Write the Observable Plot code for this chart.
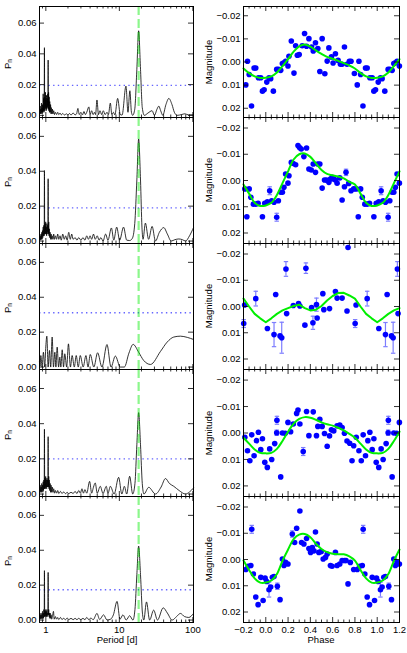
<!DOCTYPE html>
<html><head><meta charset="utf-8">
<script src="https://cdn.jsdelivr.net/npm/d3@7"></script>
<script src="https://cdn.jsdelivr.net/npm/@observablehq/plot@0.6"></script>
<style>
body{margin:0;background:#fff;}
#wrap{position:relative;width:407px;height:653px;overflow:hidden;font-family:"Liberation Sans",Arial,sans-serif;color:#000;}
#wrap svg{position:absolute;overflow:visible;}
.lab{position:absolute;width:100px;height:12px;line-height:12px;text-align:center;font-size:9.5px;white-space:nowrap;}
.rot{transform:rotate(-90deg);}
.lab sub{font-size:6.5px;vertical-align:-1px;}
</style></head><body><div id="wrap"></div>
<script>
// ---------- DATA ----------
const periodTicks = [1, 10, 100];
const periodMinor = [0.9,2,3,4,5,6,7,8,9,20,30,40,50,60,70,80,90];
const powerTicks = [0, 0.02, 0.04, 0.06];
const phaseTicks = [-0.2, 0, 0.2, 0.4, 0.6, 0.8, 1.0, 1.2];
const magTicks = [-0.02, -0.01, 0, 0.01, 0.02];
const peakPeriod = 18.3;
const thresholds = [0.0195, 0.0190, 0.0311, 0.0200, 0.0174];

// periodograms: [period (d), normalized power]
const pg1 = [[0.83,0.002],[0.84,0.006],[0.848,0.001],[0.856,0.004],[0.864,0.001],[0.872,0.008],[0.88,0.002],[0.888,0.005],[0.896,0.001],[0.904,0.007],[0.912,0.002],[0.92,0.014],[0.928,0.003],[0.936,0.011],[0.944,0.002],[0.95,0.006],[0.957,0.044],[0.964,0.003],[0.972,0.012],[0.98,0.004],[0.988,0.015],[0.996,0.005],[1.004,0.010],[1.012,0.003],[1.02,0.013],[1.03,0.004],[1.04,0.011],[1.05,0.005],[1.06,0.014],[1.068,0.006],[1.075,0.036],[1.083,0.004],[1.09,0.015],[1.1,0.003],[1.11,0.012],[1.12,0.002],[1.13,0.009],[1.145,0.002],[1.16,0.007],[1.175,0.001],[1.19,0.005],[1.21,0.001],[1.23,0.004],[1.25,0.001],[1.28,0.003],[1.31,0.0005],[1.35,0.002],[1.4,0.0005],[1.45,0.002],[1.5,0.0005],[1.56,0.0015],[1.62,0.0003],[1.7,0.0012],[1.8,0.0002],[1.9,0.001],[2.0,0.0002],[2.1,0.0012],[2.2,0.0002],[2.35,0.0015],[2.5,0.0003],[2.62,0.001],[2.73,0.0045],[2.85,0.0005],[3.0,0.002],[3.15,0.0003],[3.3,0.0025],[3.45,0.0005],[3.6,0.002],[3.85,0.0055],[4.0,0.0005],[4.2,0.003],[4.4,0.0005],[4.6,0.002],[4.75,0.0005],[4.96,0.010],[5.2,0.0005],[5.45,0.003],[5.75,0.0005],[6.05,0.003],[6.4,0.0005],[6.8,0.002],[7.1,0.0005],[7.54,0.008],[7.9,0.0005],[8.3,0.002],[8.7,0.0003],[9.48,0.011],[10.3,0.0005],[10.9,0.0002],[12.3,0.019],[13.1,0.002],[13.9,0.016],[14.6,0.002],[15.2,0.0],[16.2,0.004],[17.3,0.03],[18.3,0.055],[19.4,0.03],[20.5,0.005],[21.9,0.0],[24.5,0.0015],[27.9,0.003],[30.0,0.0],[32.5,0.004],[34.4,0.006],[36.5,0.003],[39.0,0.0],[43,0.007],[47.1,0.011],[52,0.007],[56,0.002],[61.2,0.0],[70,0.0005],[77.8,0.001],[87,0.0003],[102,0.0003]];

const pg2 = [[0.83,0.001],[0.84,0.003],[0.85,0.0005],[0.86,0.004],[0.87,0.001],[0.88,0.005],[0.89,0.001],[0.9,0.006],[0.91,0.002],[0.92,0.008],[0.93,0.003],[0.94,0.009],[0.95,0.003],[0.957,0.0404],[0.965,0.004],[0.975,0.010],[0.985,0.004],[0.995,0.011],[1.005,0.004],[1.015,0.008],[1.025,0.003],[1.035,0.010],[1.045,0.004],[1.055,0.009],[1.065,0.005],[1.075,0.0357],[1.085,0.004],[1.095,0.011],[1.105,0.003],[1.115,0.007],[1.13,0.002],[1.145,0.005],[1.16,0.001],[1.18,0.004],[1.2,0.001],[1.22,0.003],[1.25,0.001],[1.28,0.004],[1.31,0.001],[1.35,0.003],[1.4,0.001],[1.45,0.004],[1.5,0.001],[1.56,0.003],[1.62,0.0005],[1.7,0.004],[1.78,0.001],[1.86,0.003],[1.95,0.0005],[2.05,0.005],[2.15,0.001],[2.25,0.004],[2.35,0.001],[2.5,0.002],[2.65,0.0005],[2.8,0.002],[3.0,0.0005],[3.2,0.002],[3.4,0.0005],[3.6,0.003],[3.8,0.001],[4.0,0.003],[4.2,0.001],[4.45,0.004],[4.7,0.001],[5.0,0.003],[5.3,0.0005],[5.6,0.002],[6.0,0.0],[6.5,0.004],[7.0,0.0005],[7.8,0.0075],[8.4,0.0005],[9.2,0.008],[10.1,0.0005],[11.4,0.008],[12.6,0.0005],[13.8,0.0003],[15.0,0.0015],[16.2,0.01],[17.3,0.035],[18.3,0.0585],[19.4,0.035],[20.3,0.008],[21.0,0.001],[22.6,0.0103],[25.0,0.001],[27.9,0.0084],[31,0.0],[35,0.005],[40.2,0.0077],[45,0.004],[50.7,0.0],[57,0.0008],[64.4,0.0012],[72,0.0008],[79.5,0.0],[90,0.003],[102,0.0077]];

const pg3 = [[0.818,0.003],[0.835,0.0005],[0.855,0.0066],[0.89,0.0],[0.927,0.0085],[0.965,0.0],[1.0,0.012],[1.032,0.0177],[1.075,0.0],[1.12,0.0095],[1.165,0.0],[1.219,0.0172],[1.27,0.0],[1.326,0.0085],[1.37,0.0],[1.426,0.0114],[1.49,0.0],[1.55,0.0057],[1.6,0.0],[1.67,0.0099],[1.74,0.0],[1.81,0.0076],[1.92,0.0],[2.03,0.0133],[2.16,0.0],[2.28,0.0066],[2.44,0.0],[2.59,0.0066],[2.76,0.0],[2.94,0.0066],[3.22,0.0],[3.51,0.0066],[3.75,0.0],[4.02,0.0072],[4.5,0.0],[5.06,0.0082],[5.8,0.0],[6.79,0.0129],[7.7,0.0],[8.82,0.0063],[10.3,0.0],[11.7,0.0],[13.5,0.008],[15.4,0.013],[18.3,0.0085],[21.4,0.0038],[26.5,0.0015],[36.3,0.009],[44.7,0.0143],[55,0.0172],[67.7,0.0177],[84,0.017],[102,0.0158]];

const pg4 = [[0.83,0.002],[0.84,0.005],[0.85,0.001],[0.86,0.004],[0.87,0.001],[0.88,0.006],[0.89,0.002],[0.9,0.005],[0.91,0.001],[0.92,0.007],[0.93,0.002],[0.94,0.008],[0.95,0.003],[0.957,0.0368],[0.965,0.003],[0.975,0.009],[0.985,0.003],[0.995,0.010],[1.005,0.004],[1.015,0.008],[1.025,0.003],[1.035,0.009],[1.045,0.004],[1.055,0.008],[1.065,0.004],[1.075,0.0326],[1.085,0.004],[1.095,0.010],[1.105,0.003],[1.115,0.008],[1.13,0.002],[1.145,0.006],[1.16,0.001],[1.18,0.005],[1.2,0.001],[1.22,0.004],[1.25,0.001],[1.28,0.003],[1.31,0.0005],[1.35,0.002],[1.4,0.0005],[1.45,0.002],[1.5,0.0003],[1.58,0.0015],[1.66,0.0003],[1.75,0.0012],[1.85,0.0002],[1.95,0.001],[2.05,0.0002],[2.2,0.001],[2.35,0.0003],[2.5,0.0015],[2.65,0.0003],[2.8,0.002],[2.95,0.0005],[3.1,0.003],[3.25,0.0005],[3.4,0.0025],[3.6,0.0005],[3.94,0.0072],[4.2,0.0005],[4.45,0.004],[4.7,0.0063],[5.0,0.0005],[5.5,0.0044],[6.0,0.0003],[6.64,0.0044],[7.0,0.0003],[7.54,0.0044],[8.5,0.0],[9.78,0.0095],[10.8,0.0],[11.7,0.0044],[12.6,0.0],[13.8,0.0101],[15.2,0.0],[16.3,0.006],[17.3,0.028],[18.3,0.0463],[19.4,0.028],[20.5,0.006],[21.6,0.0],[25.1,0.0038],[31,0.0],[37,0.004],[42.4,0.0088],[48,0.006],[55,0.0044],[65,0.002],[79.5,0.0],[90,0.0012],[102,0.0034]];

const pg5 = [[0.83,0.001],[0.84,0.003],[0.85,0.0005],[0.86,0.004],[0.87,0.001],[0.88,0.003],[0.89,0.0005],[0.9,0.005],[0.91,0.001],[0.92,0.004],[0.93,0.001],[0.94,0.006],[0.95,0.002],[0.957,0.0283],[0.965,0.002],[0.975,0.005],[0.985,0.002],[0.995,0.006],[1.005,0.002],[1.015,0.005],[1.025,0.002],[1.035,0.006],[1.045,0.002],[1.055,0.004],[1.065,0.003],[1.075,0.0273],[1.085,0.003],[1.095,0.006],[1.105,0.002],[1.115,0.004],[1.13,0.001],[1.145,0.004],[1.16,0.001],[1.18,0.003],[1.2,0.0005],[1.23,0.002],[1.27,0.005],[1.3,0.0005],[1.35,0.002],[1.4,0.0005],[1.45,0.0015],[1.5,0.0003],[1.58,0.0015],[1.66,0.0003],[1.75,0.001],[1.85,0.0002],[1.95,0.0012],[2.05,0.0002],[2.2,0.001],[2.35,0.0002],[2.5,0.001],[2.65,0.0002],[2.8,0.001],[3.0,0.0002],[3.2,0.001],[3.4,0.0002],[3.6,0.0015],[3.85,0.0002],[4.1,0.0012],[4.4,0.0002],[4.96,0.0038],[5.4,0.0003],[6.1,0.003],[6.8,0.0],[7.6,0.0005],[8.3,0.003],[9.3,0.0107],[10.2,0.0005],[11.2,0.003],[12.4,0.0],[13.8,0.0025],[15.3,0.0],[16.3,0.006],[17.3,0.026],[18.3,0.0424],[19.4,0.026],[20.6,0.004],[21.5,0.0],[23.4,0.0104],[25.8,0.0],[29.3,0.0057],[33,0.0],[39.5,0.007],[45,0.004],[52.3,0.0],[60,0.002],[67.7,0.0038],[77,0.002],[88,0.0015],[102,0.0038]];

// phased light curves: [phase, magnitude, error (0 = none)]
const lc1 = [[0.009,0.0087],[0.029,0.0068],[0.044,0.0072],[0.068,0.0126],[0.098,0.0032],[0.113,0.0032],[0.134,0.0036],[0.149,0.0007],[0.163,0.0003],[0.178,-0.0003],[0.199,0.0017],[0.208,-0.0025],[0.229,-0.0091],[0.253,0.0048],[0.268,-0.0070],[0.283,-0.0029],[0.300,-0.0032],[0.327,-0.0070],[0.348,-0.0123],[0.366,-0.0068],[0.387,-0.0101],[0.411,-0.0065],[0.426,-0.0048],[0.446,-0.0083],[0.467,-0.0058],[0.485,0.0041],[0.506,-0.0101],[0.530,0.0051],[0.551,-0.0004],[0.566,-0.0061],[0.589,-0.0022],[0.604,0.0004],[0.625,-0.0036],[0.649,-0.0007],[0.670,0.0010],[0.685,0.0010],[0.706,-0.0065],[0.729,0.0010],[0.750,-0.0003],[0.765,-0.0003],[0.795,0.0050],[0.821,0.0099],[0.836,-0.0003],[0.851,0.0054],[0.872,0.0190],[0.895,0.0026],[0.910,0.0026],[0.934,0.0068],[0.955,0.0068],[0.970,0.0126],[0.985,0.0120]];
const lc2 = [[0.014,0.0081],[0.035,0.0039,0.0015],[0.053,0.0077],[0.074,0.0083],[0.098,0.0140,0.0015],[0.113,0.0077],[0.134,0.0045],[0.149,0.0045],[0.163,0.0026],[0.178,-0.0025],[0.199,0.0010],[0.208,-0.0018],[0.229,-0.0069],[0.247,-0.0065],[0.268,-0.0060],[0.289,-0.0133],[0.303,-0.0126],[0.318,-0.0120],[0.342,-0.0091],[0.366,-0.0124],[0.387,-0.0044],[0.408,-0.0040],[0.426,-0.0063],[0.446,-0.0031],[0.467,-0.0063],[0.485,-0.0063],[0.506,0.0029],[0.527,-0.0002],[0.545,-0.0002],[0.566,0.0007],[0.580,-0.0006],[0.595,-0.0012],[0.610,-0.0006],[0.625,-0.0002],[0.640,0.0010],[0.664,-0.0010],[0.685,0.0074],[0.706,0.0024],[0.720,-0.0031,0.0012],[0.744,0.0011],[0.765,0.0039],[0.789,0.0032],[0.812,0.0032],[0.830,0.0138],[0.851,0.0032],[0.866,0.0064],[0.889,0.0090],[0.910,0.0090],[0.931,0.0087],[0.970,0.0138],[0.991,0.0087]];
const lc3 = [[0.802,0.0065,0.0015],[0.81,-0.0006,0],[0.91,-0.0030,0.0028],[0.0145,0.0084],[0.074,0.0107,0.0046],[0.089,-0.0046],[0.128,0.0112],[0.143,0.0119,0.0059],[0.181,-0.0143,0.0028],[0.187,0.0027],[0.247,-0.0004],[0.294,-0.0011],[0.306,-0.0002],[0.351,0.0071],[0.360,-0.0146,0.002],[0.411,0.0004],[0.423,0.0062,0.0025],[0.455,-0.0007,0.0025],[0.461,0.0044],[0.512,-0.0049],[0.521,0.0012],[0.572,0.0008],[0.625,-0.0057],[0.640,-0.0032],[0.685,-0.0032],[0.729,0.0017],[0.738,-0.0225]];
const lc4 = [[0.812,0.0016],[0.836,0.0067],[0.857,0.0105],[0.874,0.0007],[0.895,0.0086],[0.916,0.0029],[0.934,-0.0003],[0.955,0.0063],[0.970,0.0022],[0.991,0.0111],[0.014,0.0130],[0.035,0.0060],[0.053,0.0100],[0.080,0.0040],[0.098,-0.0001,0.001],[0.100,-0.0048,0.0015],[0.134,0.0166],[0.149,0.0000],[0.175,0.0001],[0.199,-0.0040],[0.223,-0.0005],[0.247,-0.0034],[0.277,-0.0074],[0.289,-0.0087],[0.306,-0.0034],[0.336,0.0070,0.0015],[0.366,-0.0081],[0.387,0.0010],[0.426,-0.0080],[0.455,0.0010],[0.467,-0.0025],[0.485,-0.0052],[0.506,-0.0025],[0.527,0.0002],[0.551,0.0050],[0.572,0.0011],[0.589,-0.0012],[0.610,-0.0008],[0.640,-0.0027],[0.664,-0.0030],[0.685,-0.0021],[0.706,0.0001],[0.729,0.0030],[0.753,0.0039],[0.774,0.0105],[0.789,0.0048]];
const lc5 = [[0.0085,0.0084],[0.029,0.0115,0.0028],[0.044,0.0105],[0.059,0.0068],[0.074,0.0065],[0.104,0.0102,0.0012],[0.128,0.0153],[0.149,-0.0002],[0.163,0.0023],[0.178,0.0011],[0.199,0.0017],[0.238,-0.0097,0.0012],[0.259,-0.0065],[0.277,-0.0119],[0.306,-0.0185],[0.321,-0.0065],[0.342,-0.0059],[0.366,-0.0080],[0.387,-0.0042],[0.402,-0.0027],[0.417,-0.0046],[0.432,-0.0033],[0.446,-0.0105],[0.461,-0.0059],[0.476,-0.0027],[0.497,-0.0030],[0.515,-0.0002],[0.536,-0.0008],[0.551,-0.0021],[0.580,0.0023],[0.595,0.0026],[0.625,-0.0027],[0.640,0.0023],[0.664,0.0017],[0.685,0.0004],[0.706,0.0004],[0.720,0.0004],[0.738,0.0093],[0.759,0.0011],[0.789,0.0038],[0.821,0.0038],[0.842,0.0026],[0.866,0.0023],[0.874,-0.0115,0.0015],[0.889,0.0055],[0.910,0.0143],[0.931,0.0172],[0.955,0.0068],[0.976,0.0156],[0.994,0.0071]];

// fitted model curves sampled at these phases
const fitPhase = [0,0.05,0.1,0.15,0.2,0.25,0.3,0.35,0.4,0.45,0.5,0.55,0.6,0.65,0.7,0.75,0.8,0.85,0.9,0.95];
const fit1 = [0.0068,0.0062,0.0045,0.0018,-0.0012,-0.0045,-0.0068,-0.0076,-0.0066,-0.0050,-0.0035,-0.0022,-0.0014,-0.0005,0.0005,0.0015,0.0028,0.0048,0.0062,0.0069];
const fit2 = [0.0095,0.0085,0.0055,0.0010,-0.0035,-0.0080,-0.0100,-0.0103,-0.0090,-0.0065,-0.0040,-0.0025,-0.0020,-0.0015,-0.0008,0.0005,0.0015,0.0050,0.0085,0.0097];
const fit3 = [0.0060,0.0045,0.0028,0.0015,0.0006,-0.0002,-0.0007,0.0006,0.0015,0.0012,-0.0002,-0.0023,-0.0040,-0.0051,-0.0052,-0.0042,-0.0030,0.0000,0.0028,0.0045];
const fit4 = [0.0077,0.0075,0.0060,0.0030,-0.0005,-0.0035,-0.0053,-0.0060,-0.0058,-0.0050,-0.0040,-0.0033,-0.0028,-0.0020,-0.0010,0.0003,0.0018,0.0040,0.0062,0.0075];
const fit5 = [0.0088,0.0080,0.0055,0.0005,-0.0038,-0.0078,-0.0095,-0.0097,-0.0085,-0.0060,-0.0040,-0.0028,-0.0022,-0.0020,-0.0020,-0.0012,0.0004,0.0040,0.0072,0.0088];

// ---------- LAYOUT ----------
const rows = [[6,117],[117,243],[243,369],[369,496],[496,622]];
const font = {fontFamily:"'Liberation Sans', Arial, sans-serif", fontSize:"9.5px", overflow:"visible", background:"transparent", color:"#000"};
const wrap = document.getElementById("wrap");
const BOTTOM = 31;

function place(svg, left, top) {
  svg.style.left = left + "px"; svg.style.top = top + "px";
  wrap.appendChild(svg);
}
function label(html, cx, cy, rot) {
  const d = document.createElement("div");
  d.className = "lab" + (rot ? " rot" : "");
  d.style.left = (cx - 50) + "px"; d.style.top = (cy - 6) + "px";
  d.innerHTML = html; wrap.appendChild(d);
}
function frameTicks(innerW, innerH, xMaj, xMin, yMaj, yMin) {
  const M = 5, m = 2.5, s = {stroke:"black", strokeWidth:0.8};
  const out = [];
  out.push(Plot.tickX(xMaj, {x:d=>d, insetBottom: innerH - M, ...s}));
  out.push(Plot.tickX(xMaj, {x:d=>d, insetTop: innerH - M, ...s}));
  out.push(Plot.tickX(xMin, {x:d=>d, insetBottom: innerH - m, ...s}));
  out.push(Plot.tickX(xMin, {x:d=>d, insetTop: innerH - m, ...s}));
  out.push(Plot.tickY(yMaj, {y:d=>d, insetRight: innerW - M, ...s}));
  out.push(Plot.tickY(yMaj, {y:d=>d, insetLeft: innerW - M, ...s}));
  if (yMin.length) {
    out.push(Plot.tickY(yMin, {y:d=>d, insetRight: innerW - m, ...s}));
    out.push(Plot.tickY(yMin, {y:d=>d, insetLeft: innerW - m, ...s}));
  }
  return out;
}

const pgs = [pg1, pg2, pg3, pg4, pg5];
const lcs = [lc1, lc2, lc3, lc4, lc5];
const fits = [fit1, fit2, fit3, fit4, fit5];
const phaseMinor = d3.range(-0.15, 1.2, 0.05).filter(v => Math.abs(v * 5 - Math.round(v * 5)) > 1e-6);

rows.forEach(([top, bot], i) => {
  const h = bot - top;
  const last = i === rows.length - 1;
  const H = h + (last ? BOTTOM : 0);

  // ---- left: periodogram ----
  const lW = 200, lML = 39, lMR = 7;
  const left = Plot.plot({
    width: lW, height: H, marginLeft: lML, marginRight: lMR, marginTop: 0, marginBottom: last ? BOTTOM : 0,
    style: font,
    x: {type: "log", domain: [0.82, 102], axis: null},
    y: {domain: [-0.0014, 0.0708], axis: null},
    marks: [
      Plot.ruleY([thresholds[i]], {stroke: "#4a4aff", strokeOpacity: 0.85, strokeWidth: 1.4, strokeDasharray: "1.4,3.3"}),
      Plot.line(pgs[i], {x: d => d[0], y: d => d[1], curve: "monotone-x", stroke: "black", strokeWidth: 0.8}),
      Plot.ruleX([peakPeriod], {stroke: "#00ee00", strokeOpacity: 0.45, strokeWidth: 2.2, strokeDasharray: "9,4"}),
      ...frameTicks(lW - lML - lMR, h, periodTicks, periodMinor, powerTicks, []),
      Plot.frame({stroke: "black", strokeWidth: 1}),
      Plot.axisY(powerTicks, {tickFormat: d3.format(".2f"), tickSize: 0, tickPadding: 3, label: null}),
      last ? Plot.axisX(periodTicks, {tickFormat: d => String(d), tickSize: 0, tickPadding: 4, label: null}) : null
    ]
  });
  place(left, 0, top);
  label("P<sub>n</sub>", 8, (top + bot) / 2 + 2, true);

  // ---- right: phased light curve ----
  const pts = [];
  for (const [p, m, e = 0] of lcs[i]) {
    pts.push({p, m, e});
    if (p < 0.2) pts.push({p: p + 1, m, e});
    if (p > 0.8) pts.push({p: p - 1, m, e});
  }
  const errs = pts.filter(d => d.e > 0);
  const fit = [];
  fitPhase.forEach((p, j) => { if (p >= 0.8) fit.push({p: p - 1, m: fits[i][j]}); });
  fitPhase.forEach((p, j) => fit.push({p, m: fits[i][j]}));
  fitPhase.forEach((p, j) => { if (p <= 0.2) fit.push({p: p + 1, m: fits[i][j]}); });

  const capSymbol = {draw(ctx, size) { const r = Math.sqrt(size / Math.PI); ctx.moveTo(-r, 0); ctx.lineTo(r, 0); }};
  const rW = 207, rML = 43, rMR = 8;
  const right = Plot.plot({
    width: rW, height: H, marginLeft: rML, marginRight: rMR, marginTop: 0, marginBottom: last ? BOTTOM : 0,
    style: font,
    x: {domain: [-0.2, 1.2], axis: null},
    y: {domain: [-0.024, 0.024], reverse: true, axis: null},
    marks: [
      Plot.ruleX(errs, {x: "p", y1: d => d.m - d.e, y2: d => d.m + d.e, stroke: "#7d7dff", strokeWidth: 1.2}),
      Plot.dot(errs, {x: "p", y: d => d.m - d.e, symbol: capSymbol, r: 2.2, stroke: "#7d7dff", strokeWidth: 1.2, fill: "none"}),
      Plot.dot(errs, {x: "p", y: d => d.m + d.e, symbol: capSymbol, r: 2.2, stroke: "#7d7dff", strokeWidth: 1.2, fill: "none"}),
      Plot.dot(pts, {x: "p", y: "m", r: 2.8, fill: "#0000ff", stroke: "none"}),
      Plot.line(fit, {x: "p", y: "m", curve: i === 2 ? "linear" : "catmull-rom", stroke: "#00ee00", strokeWidth: 2}),
      ...frameTicks(rW - rML - rMR, h, phaseTicks, phaseMinor, magTicks, []),
      Plot.frame({stroke: "black", strokeWidth: 1}),
      Plot.axisY(magTicks, {tickFormat: d3.format(".2f"), tickSize: 0, tickPadding: 3, label: null}),
      last ? Plot.axisX(phaseTicks, {tickFormat: d3.format(".1f"), tickSize: 0, tickPadding: 4, label: null}) : null
    ]
  });
  place(right, 200, top);
  label("Magnitude", 208.5, (top + bot) / 2, true);
});
label("Period [d]", 117, 640, false);
label("Phase", 321, 640, false);
</script></body></html>
